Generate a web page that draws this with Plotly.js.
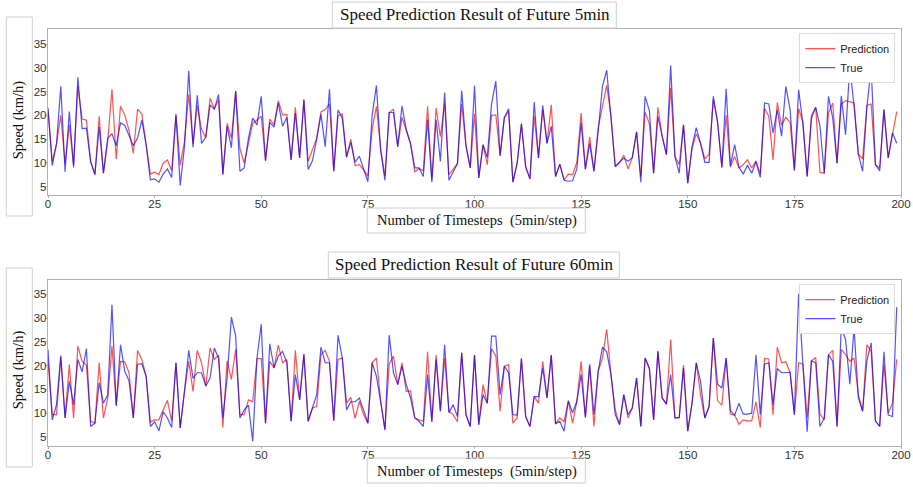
<!DOCTYPE html>
<html>
<head>
<meta charset="utf-8">
<script src="https://cdn.plot.ly/plotly-3.0.1.min.js"></script>
<style>html,body{margin:0;padding:0;background:#fff;}#chart{width:913px;height:487px;}</style>
</head>
<body>
<div id="chart"></div>
<script>
// ---- data ----
const pred5 = [21,10.3,14,20,9.9,18,9.5,26,19.2,19,10.3,7.4,19.8,7.8,14.5,25.5,10.8,21.9,20.1,16.8,
12,21.3,20.3,14,7.6,8,7.5,9.9,10.6,8.3,20.3,9.5,14.5,24.4,14,22.1,17,15.3,23.6,21.4,
23.3,7.6,18.3,15.2,25.1,13,9.9,14.1,18.3,19,19.8,10.4,19.2,18,23.1,20.1,20.2,10.6,21.7,11,
23.4,10.3,12.6,15.2,20.7,21.2,22.4,8.2,19.9,20.3,11.2,15,9.4,9.6,8.5,7.2,17,21.9,13,7.2,
20.6,21.3,13.4,19.6,16.8,14,8.1,8.8,8.3,21.9,6.5,21.5,15.5,22.5,7.5,8.7,9.8,22.4,13.5,8.9,
20.3,6.8,13.8,9.6,20,20.1,11.5,19.5,20.8,5.9,9.9,18.2,8.9,6.6,19.8,11,21.2,14.1,22.2,7.1,
9.7,6.4,7.6,7.5,10.1,20.5,8.7,15.4,8.2,17.4,21.7,26.3,20,9.2,10,11.6,8.7,11.1,16.5,7.1,
20.7,18.2,7.8,21.7,15.6,11.7,25.8,11.3,9.6,18,5.7,13,16.1,14.1,10.8,11.8,23.3,18.5,9,20,
9.1,11.3,8.9,9.6,10.6,8.9,10.4,7.7,21.5,19.8,10.6,22.7,17.9,19.6,18.5,8.4,21.4,18.6,7.1,20,
21.7,8,7.8,20.5,22.6,9.9,22.4,23.1,22.9,22.6,11.8,10.8,22.1,22.4,9.6,8.9,21.2,11,15.9,20.8];
const true5 = [21.6,9.4,14,26.1,8.1,20.8,9,28,17.2,17.3,10.2,7.6,17.6,7.8,15.2,16.1,13.6,18.4,17.9,15.9,
13.6,15.2,19,13.8,6.4,6.6,5.9,7.6,8.7,6.9,20,5.2,13.4,29.4,13.3,24.2,14.1,15.4,22.2,21.3,
24.4,7.5,17.7,13.2,25.1,8.2,8.9,15.2,19.4,18,24,10.5,18.5,17.5,22.6,17.7,19.6,10.6,20.5,11,
23.2,8.6,10.4,15,20.2,13.4,25.5,8.2,21.1,19.4,11.2,14.3,10.1,11.4,8.5,6,20,26.3,12.5,6.3,
20.6,20.6,13.4,22,17,14.1,8.9,8.9,7.1,19.1,5.9,19.1,10.3,24.8,6.3,8.2,9.8,25.2,13.7,8.9,
26.3,6.8,13.8,11.1,22.4,27.2,11.5,19.5,21.4,5.9,9.9,18.2,9.3,6.6,22.8,11,22.1,14.1,17.7,7.1,
9.7,6.3,6.1,6.2,8.7,18.4,8.6,14.1,8.2,16.6,26.1,29.5,20,9.2,10.1,11,10.3,11.1,16.5,5.9,
24,21,7.8,19.8,15.6,11.7,30.5,11.3,7.8,18,5.7,13.4,17.4,14.1,10.1,10.1,24,18.5,9,25.6,
9.4,13.8,9.1,7.6,9.5,7.8,10.2,6.9,22.6,22.4,16.3,21.2,15.6,26.1,21.2,8.4,25.4,18.2,7.1,19.4,
21.7,17.8,7.8,24,19.4,9.9,24.1,15.9,30.3,21.9,11.8,8.2,21.7,30.1,9.6,8.3,21.2,11,16.3,14.1];
const pred60 = [21,9.7,9.7,21.8,9,20.2,9,24.1,20.9,20.1,8.3,7.9,20.6,9,13.1,24.1,11.7,20.9,20.8,18.5,
9,23.2,21.3,17.8,8.2,8.6,8.6,10.7,12.7,8.3,20.6,6.9,14.6,20.9,14.6,23.2,20.6,15.7,23.7,21.3,
22.2,7,21,17.1,23.4,9.7,9.7,12.8,12.4,21.5,21.5,7.9,20.9,19.5,24.3,20.6,21.3,8.3,23.2,12.8,
22.4,8.3,11.1,11.4,22.3,23.2,20.9,8.4,21.3,21.6,12.1,13.3,8.9,12.5,9.7,7.9,20.6,21.6,12.5,6.5,
20.3,22,16,20.6,14.6,14.7,9,8.6,8.3,22.9,8.2,22.3,10.4,21.6,10.4,9.7,8.2,22.7,9.7,7.2,
22.2,7.6,16,12.1,23.6,22,10.4,19.9,20.2,7.9,9,21.5,9.3,7.2,13.5,12.1,20.9,13.2,22.2,7.8,
9,8.2,12.6,7.9,12.5,20.9,9.1,19.9,7.2,18.8,21.6,27.6,18.1,10.7,7.6,13.9,9,11.1,17.4,7.2,
21.6,19.4,8.6,23,13.2,11.9,25.5,9,9,20.1,6.2,12.1,20.6,13.9,9,11.4,25.8,12.6,11.7,21.6,
9.8,9.6,7.7,8.6,8.4,8.4,12.4,7,21.5,21.4,9.7,23.9,20.6,20.8,18.5,9.7,20.6,20.3,9.1,21,
21.7,9.8,8.6,22.3,23.2,7.2,23.4,22.3,20.9,21.6,13.9,10.4,24.4,23,8.4,7.2,20.3,10,12.1,21.3];
const true60 = [23.4,8.6,11.8,22.1,9,16.7,11.8,21.3,18.7,23.6,7.2,7.9,16.4,12.1,13.8,32.8,11.5,24.4,18.8,16.8,
9,20.3,20.4,17.8,7.2,8.2,6.3,10.3,9,7,20.6,6.9,14.6,23.2,17.3,18.5,18.5,15.7,17.4,23.7,
21.5,9,17.4,30.2,26.2,9,10.7,11.7,4.1,21.6,28.7,7.9,24.6,19.5,22,23,20.6,8.3,18.1,12.8,
22.4,8.3,11.1,13.9,23.9,20.6,20.6,8.4,26.4,21.6,10.7,12.4,12.4,13.2,10.7,7.9,20.6,17.8,12.5,6.5,
26.4,18.5,16,19.9,16,13.2,9,8.3,7.2,18.1,8.2,21.3,10.4,24.4,10.1,11.8,9.3,22.7,9.7,7.2,
22.2,7.6,13.9,12.1,26.2,26.2,13.9,19.9,18.5,9.7,9.6,21.5,9.3,7.2,13.5,13.5,19.5,13.2,22.2,7.8,
8.3,6.2,12.6,10.1,12.5,18.1,9.1,20.3,9.7,18.8,23.9,22.9,18.1,9.7,7.6,13.9,9.7,11.1,17.4,7.2,
21.6,19.4,8.6,23,13.2,11.9,18.1,9,9.1,19.5,6.2,12.1,20.6,16.7,9,11.4,25.8,16.1,15.3,21.6,
10.5,9.6,12.1,9.8,9.8,10,22.3,9.7,20.3,20.6,11.8,19.4,18.5,18.5,18.6,9.7,35.1,20.2,6.1,21,
20.6,7.2,9,22.3,20.9,7.2,28,25.5,16.1,27.9,13.2,10.4,21,24.8,8.4,7.2,22.9,9.6,9.3,32.3];
const xTickVals = [0,25,50,75,100,125,150,175,200];
const yTickVals = [5,10,15,20,25,30,35];
const seriesNames = ["Prediction", "True"];
const titles = ["Speed Prediction Result of Future 5min", "Speed Prediction Result of Future 60min"];
const xLabel = "Number of Timesteps\u00a0\u00a0(5min/step)";
const yLabel = "Speed (km/h)";

const steps = pred5.map((_, i) => i);

const RED = '#ff0000';
const BLUE = '#0000ff';
const lw = 1.2;
const op = 0.68;

const traces = [
  {x: steps, y: pred5, name: seriesNames[0], type: 'scatter', mode: 'lines', opacity: op, line: {color: RED, width: lw}, xaxis: 'x', yaxis: 'y', legend: 'legend', legendgroup: 'a1'},
  {x: steps, y: true5, name: seriesNames[1], type: 'scatter', mode: 'lines', opacity: op, line: {color: BLUE, width: lw}, xaxis: 'x', yaxis: 'y', legend: 'legend', legendgroup: 'a2'},
  {x: steps, y: pred60, name: seriesNames[0], type: 'scatter', mode: 'lines', opacity: op, line: {color: RED, width: lw}, xaxis: 'x2', yaxis: 'y2', legend: 'legend2', legendgroup: 'b1'},
  {x: steps, y: true60, name: seriesNames[1], type: 'scatter', mode: 'lines', opacity: op, line: {color: BLUE, width: lw}, xaxis: 'x2', yaxis: 'y2', legend: 'legend2', legendgroup: 'b2'}
];

const tickFont = {family: 'Liberation Sans, Arial, sans-serif', size: 11.5, color: '#333'};
const axisBase = {
  showline: true, mirror: true, linecolor: '#b0b0b0', linewidth: 1.2,
  ticks: 'outside', ticklen: 2, tickcolor: '#b0b0b0', tickwidth: 1,
  showgrid: false, zeroline: false, tickfont: tickFont, fixedrange: true
};
const xAxisBase = Object.assign({}, axisBase, {ticklabelstandoff: -4});
const yAxisBase = Object.assign({}, axisBase, {ticklabelstandoff: -4});

const serif = 'Liberation Serif, Times New Roman, serif';
const boxColor = '#cfcfcf';
function box(x0, x1, y0, y1) {
  return {type: 'rect', xref: 'paper', yref: 'paper', x0: x0, x1: x1, y0: y0, y1: y1,
          line: {color: boxColor, width: 1}, fillcolor: 'rgba(255,255,255,0)', layer: 'above'};
}
function label(text, x, y, size, angle) {
  return {text: text, xref: 'paper', yref: 'paper', x: x, y: y, xanchor: 'center', yanchor: 'middle',
          showarrow: false, textangle: angle || 0, font: {family: serif, size: size, color: '#111'}};
}
const legendFont = {family: 'Liberation Sans, Arial, sans-serif', size: 11, color: '#222'};

const layout = {
  width: 913, height: 487,
  margin: {l: 47.7, r: 12.3, t: 29, b: 41, pad: 0},
  paper_bgcolor: '#fff', plot_bgcolor: '#fff',
  showlegend: true,
  xaxis: Object.assign({}, xAxisBase, {domain: [0, 1], anchor: 'y', range: [0, 200], tickvals: xTickVals}),
  yaxis: Object.assign({}, yAxisBase, {domain: [0.6019, 1], anchor: 'x', range: [3.2, 38.2], tickvals: yTickVals}),
  xaxis2: Object.assign({}, xAxisBase, {domain: [0, 1], anchor: 'y2', range: [0, 200], tickvals: xTickVals}),
  yaxis2: Object.assign({}, yAxisBase, {domain: [0, 0.3981], anchor: 'x2', range: [3.1, 38.0], tickvals: yTickVals}),
  legend: {x: 0.9933, xanchor: 'right', y: 0.99, yanchor: 'top', bgcolor: '#fff', bordercolor: '#dddddd', borderwidth: 1,
           font: legendFont, traceorder: 'normal'},
  legend2: {x: 0.9933, xanchor: 'right', y: 0.388, yanchor: 'top', bgcolor: '#fff', bordercolor: '#dddddd', borderwidth: 1,
           font: legendFont, traceorder: 'normal'},
  shapes: [
    box(0.3333, 0.6662, 1.0024, 1.0647),
    box(0.3286, 0.6698, 0.4029, 0.4652),
    box(-0.0489, -0.0184, 0.5516, 1.0288),
    box(-0.0489, -0.0184, -0.0504, 0.4269),
    box(0.3743, 0.6299, 0.5108, 0.5707),
    box(0.3743, 0.6299, -0.0887, -0.0288)
  ],
  annotations: [
    label(titles[0], 0.5, 1.0336, 17),
    label(titles[1], 0.5, 0.4341, 17),
    label(yLabel, -0.0336, 0.7818, 14.5, -90),
    label(yLabel, -0.0336, 0.1823, 14.5, -90),
    label(xLabel, 0.5033, 0.5396, 14.5),
    label(xLabel, 0.5033, -0.06, 14.5)
  ]
};

Plotly.newPlot('chart', traces, layout, {displayModeBar: false, staticPlot: true});
</script>
</body>
</html>
